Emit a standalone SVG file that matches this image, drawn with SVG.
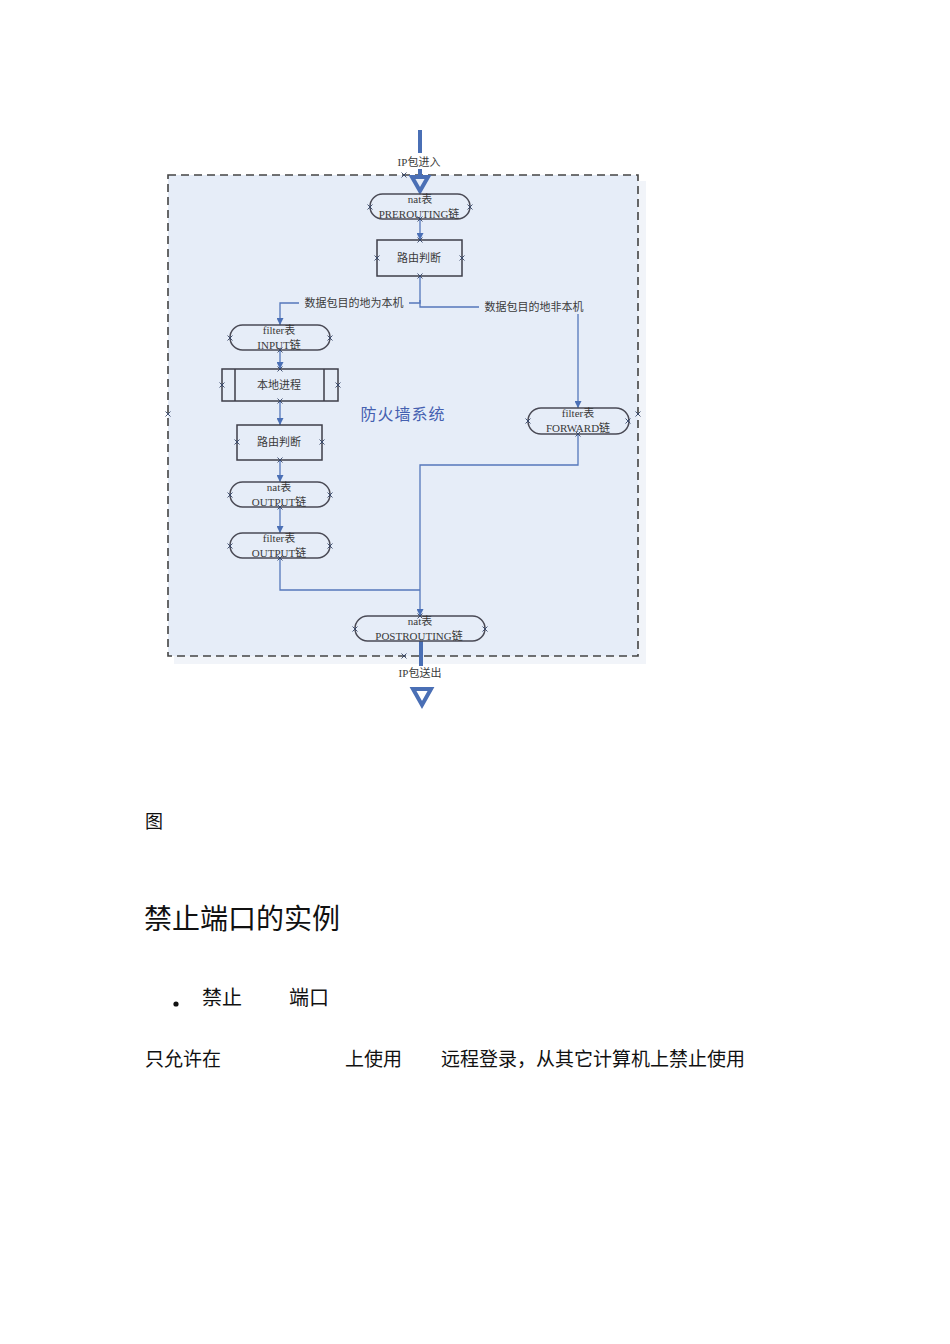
<svg xmlns="http://www.w3.org/2000/svg" xmlns:xlink="http://www.w3.org/1999/xlink" width="950" height="1344" viewBox="0 0 950 1344">
<style>
.t{font-family:"Liberation Serif","Noto Sans CJK SC",serif;fill:#3a3a3a;font-size:11px;text-anchor:middle}
.pill{fill:none;stroke:#4a4a55;stroke-width:1.5}
.box{fill:none;stroke:#3e3e48;stroke-width:1.5}
.c{fill:none;stroke:#5577bb;stroke-width:1.3}
.thick{fill:none;stroke:#4a6fb5;stroke-width:4}
.doc{font-family:"Liberation Serif","Noto Sans CJK SC",serif;fill:#111}
.xm{stroke:#334466;stroke-width:0.9;fill:none}
</style>
<defs>
<marker id="ah" viewBox="0 0 10 10" refX="10" refY="5" markerWidth="7" markerHeight="7" orient="auto" markerUnits="userSpaceOnUse">
<path d="M0,0 L10,5 L0,10 z" fill="#4a6fb5"/>
</marker>
<symbol id="x" viewBox="-3 -3 6 6" overflow="visible">
<path class="xm" d="M-2.5,-2.5 L2.5,2.5 M-2.5,2.5 L2.5,-2.5"/>
</symbol>
</defs>
<rect width="950" height="1344" fill="#ffffff"/>

<g id="frame">
<rect x="174" y="181" width="472" height="483" fill="#f1f4f9"/>
<rect x="168" y="175" width="470" height="481" fill="#e6edf8" stroke="#444" stroke-width="1.6" stroke-dasharray="8,5"/>
<text x="403" y="420" style="font-family:'Noto Sans CJK SC',sans-serif;font-size:16px;fill:#4560b0;text-anchor:middle;letter-spacing:1px">防火墙系统</text>
</g>

<g id="connectors">
<path class="thick" d="M420,130 V153 M420,169 V178"/>
<path d="M412,177 L428,177 L420,191 z" fill="#e6edf8" stroke="#4a6fb5" stroke-width="4" stroke-linejoin="miter"/>
<path class="c" d="M420,219 V240" marker-end="url(#ah)"/>
<path class="c" d="M420,276 V303 H408 M300,303 H280 V325" marker-end="url(#ah)"/>
<path class="c" d="M420,300 V307 H480 M578,314 V408" marker-end="url(#ah)"/>
<path class="c" d="M280,350 V369" marker-end="url(#ah)"/>
<path class="c" d="M280,401 V425" marker-end="url(#ah)"/>
<path class="c" d="M280,460 V482" marker-end="url(#ah)"/>
<path class="c" d="M280,507 V533" marker-end="url(#ah)"/>
<path class="c" d="M280,558 V590 H420"/>
<path class="c" d="M578,434 V465 H420 V616" marker-end="url(#ah)"/>
<path class="thick" d="M421,641 V666"/>
<path d="M413,689 L431,689 L422,705 z" fill="#ffffff" stroke="#4a6fb5" stroke-width="4"/>
<text class="t" x="419" y="166">IP包进入</text>
<rect x="299" y="296" width="110" height="14" fill="#e6edf8"/>
<text class="t" x="354" y="307">数据包目的地为本机</text>
<rect x="479" y="300" width="110" height="14" fill="#e6edf8"/>
<text class="t" x="534" y="311">数据包目的地非本机</text>
<text class="t" x="420" y="677">IP包送出</text>
</g>

<g id="prerouting">
<rect class="pill" x="370" y="194" width="100" height="25" rx="12.5"/>
<text class="t" x="420" y="203">nat表</text>
<text class="t" x="419" y="218">PREROUTING链</text>
</g>

<g id="route1">
<rect class="box" x="377" y="240" width="85" height="36"/>
<text class="t" x="419" y="262">路由判断</text>
</g>

<g id="input">
<rect class="pill" x="230" y="325" width="100" height="25" rx="12.5"/>
<text class="t" x="279" y="334">filter表</text>
<text class="t" x="279" y="349">INPUT链</text>
</g>

<g id="local">
<rect class="box" x="222" y="369" width="116" height="32"/>
<path class="box" d="M235,369 V401 M324,369 V401"/>
<text class="t" x="279" y="389">本地进程</text>
</g>

<g id="route2">
<rect class="box" x="237" y="425" width="85" height="35"/>
<text class="t" x="279" y="446">路由判断</text>
</g>

<g id="natoutput">
<rect class="pill" x="230" y="482" width="100" height="25" rx="12.5"/>
<text class="t" x="279" y="491">nat表</text>
<text class="t" x="279" y="506">OUTPUT链</text>
</g>

<g id="filteroutput">
<rect class="pill" x="230" y="533" width="100" height="25" rx="12.5"/>
<text class="t" x="279" y="542">filter表</text>
<text class="t" x="279" y="557">OUTPUT链</text>
</g>

<g id="forward">
<rect class="pill" x="528" y="408" width="101" height="26" rx="13"/>
<text class="t" x="578" y="417">filter表</text>
<text class="t" x="578" y="432">FORWARD链</text>
</g>

<g id="postrouting">
<rect class="pill" x="355" y="616" width="130" height="25" rx="12.5"/>
<text class="t" x="420" y="625">nat表</text>
<text class="t" x="419" y="640">POSTROUTING链</text>
</g>

<g id="points">
<use xlink:href="#x" x="401" y="172" width="6" height="6"/>
<use xlink:href="#x" x="401" y="653" width="6" height="6"/>
<use xlink:href="#x" x="165" y="411" width="6" height="6"/>
<use xlink:href="#x" x="635" y="411" width="6" height="6"/>
<use xlink:href="#x" x="367" y="204" width="6" height="6"/>
<use xlink:href="#x" x="467" y="204" width="6" height="6"/>
<use xlink:href="#x" x="417" y="216" width="6" height="6"/>
<use xlink:href="#x" x="417" y="237" width="6" height="6"/>
<use xlink:href="#x" x="374" y="255" width="6" height="6"/>
<use xlink:href="#x" x="459" y="255" width="6" height="6"/>
<use xlink:href="#x" x="417" y="273" width="6" height="6"/>
<use xlink:href="#x" x="227" y="335" width="6" height="6"/>
<use xlink:href="#x" x="327" y="335" width="6" height="6"/>
<use xlink:href="#x" x="277" y="347" width="6" height="6"/>
<use xlink:href="#x" x="277" y="366" width="6" height="6"/>
<use xlink:href="#x" x="219" y="382" width="6" height="6"/>
<use xlink:href="#x" x="335" y="382" width="6" height="6"/>
<use xlink:href="#x" x="277" y="398" width="6" height="6"/>
<use xlink:href="#x" x="234" y="439" width="6" height="6"/>
<use xlink:href="#x" x="319" y="439" width="6" height="6"/>
<use xlink:href="#x" x="277" y="457" width="6" height="6"/>
<use xlink:href="#x" x="227" y="492" width="6" height="6"/>
<use xlink:href="#x" x="327" y="492" width="6" height="6"/>
<use xlink:href="#x" x="277" y="504" width="6" height="6"/>
<use xlink:href="#x" x="227" y="543" width="6" height="6"/>
<use xlink:href="#x" x="327" y="543" width="6" height="6"/>
<use xlink:href="#x" x="277" y="555" width="6" height="6"/>
<use xlink:href="#x" x="525" y="418" width="6" height="6"/>
<use xlink:href="#x" x="625" y="418" width="6" height="6"/>
<use xlink:href="#x" x="575" y="431" width="6" height="6"/>
<use xlink:href="#x" x="352" y="626" width="6" height="6"/>
<use xlink:href="#x" x="482" y="626" width="6" height="6"/>
<use xlink:href="#x" x="417" y="613" width="6" height="6"/>
</g>

<g id="text-body">
<text class="doc" x="145" y="828" font-size="18">图</text>
<text class="doc" x="144" y="929" font-size="28">禁止端口的实例</text>
<circle cx="176" cy="1004" r="2.6" fill="#111"/>
<text class="doc" x="202" y="1005" font-size="20">禁止</text>
<text class="doc" x="289" y="1005" font-size="20">端口</text>
<text class="doc" x="145" y="1066" font-size="19">只允许在</text>
<text class="doc" x="345" y="1066" font-size="19">上使用</text>
<text class="doc" x="441" y="1066" font-size="19">远程登录，从其它计算机上禁止使用</text>
</g>
</svg>
